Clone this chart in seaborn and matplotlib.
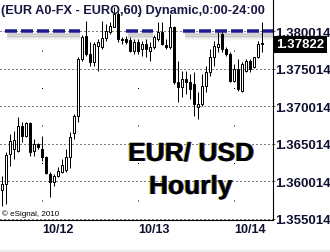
import matplotlib
matplotlib.use("Agg")
import matplotlib.pyplot as plt
import matplotlib.transforms as mtransforms
import matplotlib.patheffects as pe
from matplotlib.patches import Rectangle
import numpy as np
import seaborn as sns

# ---------------- data ----------------
open_ = [1.3588, 1.3596, 1.3636, 1.3643, 1.3640, 1.3673, 1.3660, 1.3677, 1.3640, 1.3649,
         1.3643, 1.3632, 1.3609, 1.3599, 1.3607, 1.3612, 1.3615, 1.3632, 1.3664, 1.3687,
         1.3763, 1.3794, 1.3770, 1.3759, 1.3780, 1.3779, 1.3791, 1.3799, 1.3806, 1.3823,
         1.3790, 1.3789, 1.3788, 1.3774, 1.3786, 1.3776, 1.3783, 1.3774, 1.3779, 1.3790,
         1.3799, 1.3782, 1.3779, 1.3805, 1.3732, 1.3726, 1.3736, 1.3732, 1.3730, 1.3699,
         1.3703, 1.3727, 1.3746, 1.3766, 1.3779, 1.3796, 1.3776, 1.3770, 1.3734, 1.3750,
         1.3720, 1.3747, 1.3760, 1.3752, 1.3766, 1.3784]
high = [1.3607, 1.3639, 1.3663, 1.3667, 1.3685, 1.3679, 1.3679, 1.3679, 1.3656, 1.3651,
        1.3660, 1.3633, 1.3612, 1.3609, 1.3619, 1.3629, 1.3643, 1.3665, 1.3690, 1.3766,
        1.3795, 1.3814, 1.3786, 1.3786, 1.3790, 1.3814, 1.3810, 1.3812, 1.3832, 1.3826,
        1.3792, 1.3794, 1.3792, 1.3790, 1.3790, 1.3787, 1.3790, 1.3786, 1.3795, 1.3812,
        1.3812, 1.3790, 1.3823, 1.3807, 1.3760, 1.3747, 1.3747, 1.3743, 1.3746, 1.3719,
        1.3743, 1.3754, 1.3776, 1.3787, 1.3799, 1.3799, 1.3779, 1.3772, 1.3756, 1.3763,
        1.3759, 1.3763, 1.3763, 1.3766, 1.3787, 1.3812]
low = [1.3567, 1.3570, 1.3620, 1.3630, 1.3639, 1.3652, 1.3659, 1.3633, 1.3633, 1.3643,
       1.3627, 1.3609, 1.3579, 1.3594, 1.3605, 1.3611, 1.3612, 1.3617, 1.3656, 1.3679,
       1.3760, 1.3767, 1.3754, 1.3754, 1.3747, 1.3776, 1.3787, 1.3796, 1.3805, 1.3786,
       1.3783, 1.3783, 1.3772, 1.3770, 1.3770, 1.3767, 1.3765, 1.3760, 1.3776, 1.3787,
       1.3782, 1.3776, 1.3776, 1.3730, 1.3706, 1.3712, 1.3716, 1.3710, 1.3687, 1.3683,
       1.3700, 1.3719, 1.3740, 1.3754, 1.3772, 1.3772, 1.3767, 1.3732, 1.3732, 1.3720,
       1.3719, 1.3745, 1.3745, 1.3751, 1.3764, 1.3772]
close = [1.3596, 1.3635, 1.3654, 1.3655, 1.3673, 1.3660, 1.3677, 1.3639, 1.3649, 1.3645,
         1.3632, 1.3611, 1.3599, 1.3607, 1.3613, 1.3621, 1.3632, 1.3659, 1.3687, 1.3763,
         1.3792, 1.3770, 1.3759, 1.3783, 1.3786, 1.3791, 1.3800, 1.3807, 1.3823, 1.3790,
         1.3788, 1.3786, 1.3774, 1.3786, 1.3774, 1.3783, 1.3776, 1.3779, 1.3792, 1.3799,
         1.3783, 1.3779, 1.3805, 1.3732, 1.3726, 1.3736, 1.3732, 1.3723, 1.3703, 1.3703,
         1.3727, 1.3746, 1.3766, 1.3780, 1.3783, 1.3776, 1.3770, 1.3734, 1.3750, 1.3723,
         1.3756, 1.3760, 1.3750, 1.3766, 1.3783, 1.37822]

price_levels = [1.355014, 1.360014, 1.365014, 1.370014, 1.375014, 1.380014]
price_labels = ["1.355014", "1.360014", "1.365014", "1.370014", "1.375014", "1.380014"]
date_labels = ["10/12", "10/13", "10/14"]
date_bars = [14, 38, 62]          # bar index of each date label
day_grid_bars = [10, 34, 58]      # bar index of the vertical dotted lines
ref_level = 1.380014
last_price = 1.37822
last_label = "1.37822"
title = "(EUR A0-FX - EURO,60) Dynamic,0:00-24:00"
big_title = ["EUR/ USD", "Hourly"]
copyright_text = "\u00a9 eSignal, 2010"

# ---------------- styling ----------------
sns.set_theme(style="white")
plt.rcParams["font.family"] = ["Liberation Sans", "DejaVu Sans"]
plt.rcParams["lines.scale_dashes"] = False

W, H = 330, 253
PX = 72 / 100.0  # one pixel in points
fig = plt.figure(figsize=(W / 100, H / 100), dpi=100)
fig.patch.set_facecolor("white")
ax = fig.add_axes([0, 32 / H, 273 / W, 221 / H])
ax.set_facecolor("white")

idx = np.arange(len(open_))
o = np.array(open_); c = np.array(close); hi = np.array(high); lo = np.array(low)
up = c >= o

# grid
for lvl in price_levels:
    ax.axhline(lvl, color="black", lw=PX, linestyle=(0, (PX, 3 * PX)), zorder=1)
for g in day_grid_bars:
    ax.axvline(g, color="black", lw=PX, linestyle=(18.5 * PX, (PX, 36.5 * PX)), zorder=1)

# reference dashed line with shadow
segments = [(0.75, 19.5), (31.0, 37.75), (45.25, 67.9)]
for k, a in zip([3, 4.5, 6, 7.5], [0.28, 0.22, 0.15, 0.08]):
    tr = mtransforms.offset_copy(ax.transData, fig=fig, x=0, y=-k * PX, units="points")
    for s0, s1 in segments:
        ax.plot([s0 + 0.4, s1], [ref_level, ref_level], color="#606060", lw=2.2 * PX,
                alpha=a, transform=tr, zorder=2, solid_capstyle="butt")
for s0, s1 in segments:
    ax.plot([s0, s1], [ref_level, ref_level], color="#1c1c8c", lw=3.5 * PX,
            linestyle=(0, (12 * PX, 4 * PX)), zorder=3, dash_capstyle="butt")

# candles
ax.vlines(idx, lo, hi, color="black", lw=PX, zorder=4)
bottoms = np.minimum(o, c)
heights = np.maximum(np.abs(c - o), 0.00002)
ax.bar(idx[up], heights[up], bottom=bottoms[up], width=0.55, facecolor="white",
       edgecolor="black", linewidth=PX, zorder=5)
ax.bar(idx[~up], heights[~up], bottom=bottoms[~up], width=0.55, facecolor="black",
       edgecolor="black", linewidth=PX, zorder=5)

ax.set_xlim(-0.5, 67.75)
ax.set_ylim(1.354814, 1.384281)

# axes / ticks
sns.despine(ax=ax, left=True, top=True, right=False, bottom=False)
for sp in ["right", "bottom"]:
    ax.spines[sp].set_color("black")
    ax.spines[sp].set_linewidth(1.1 * PX)
ax.yaxis.tick_right()
ax.set_yticks(price_levels, price_labels)
ax.set_xticks(date_bars, date_labels)
ax.tick_params(axis="y", which="both", right=True, left=False, direction="out",
               length=1.5 * PX, width=PX, color="#a0522d", pad=0.5,
               labelsize=9.5, labelcolor="#101030")
ax.tick_params(axis="x", length=0, pad=2.5, labelsize=9, labelcolor="#101030")
for lab in ax.get_yticklabels() + ax.get_xticklabels():
    lab.set_fontweight("bold")
ax.grid(False)

# last price box
tb = mtransforms.blended_transform_factory(ax.transAxes, ax.transData)
tb = mtransforms.offset_copy(tb, fig=fig, x=3.5 * PX, y=0, units="points")
ax.text(1.0, last_price, last_label, transform=tb, ha="left", va="center",
        fontsize=9.5, fontweight="bold", color="white", clip_on=False, zorder=10,
        bbox=dict(boxstyle="square,pad=0.2", fc="black", ec="none"))

# title
fig.text(1 / W, (H - 14) / H, title, ha="left", va="baseline", fontsize=9.2,
         fontweight="bold", color="#161640")

# big overlay text with colour fringe (path effects)
fringe = [pe.SimplePatchShadow(offset=(-1.0 * PX, 0), shadow_rgbFace="#d8b000", alpha=1.0),
          pe.SimplePatchShadow(offset=(1.0 * PX, 0), shadow_rgbFace="#2848c8", alpha=1.0),
          pe.Normal()]
for (txt, cx, base) in [(big_title[0], 191, 162), (big_title[1], 190.5, 195)]:
    fig.text(cx / W, (H - base) / H, txt, ha="center", va="baseline",
             fontsize=19, fontweight="bold", color="black", zorder=20,
             path_effects=fringe)

# copyright
fig.text(2 / W, (H - 216) / H, copyright_text, ha="left", va="baseline",
         fontsize=5.8, color="black")

# light strip at the very bottom
fig.patches.append(Rectangle((0, 0), 1, 2 / H, transform=fig.transFigure,
                             facecolor="#ececec", edgecolor="none"))

fig.savefig("out.png", dpi=100, facecolor="white")
